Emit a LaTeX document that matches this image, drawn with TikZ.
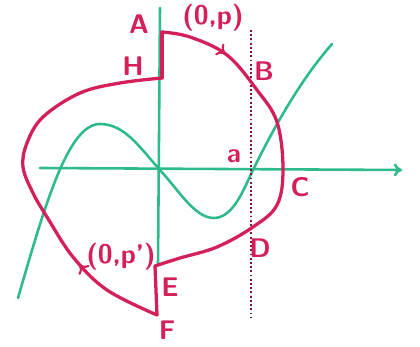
\documentclass[tikz,border=0pt]{standalone}
\usepackage{tikz}
\usetikzlibrary{arrows.meta,decorations.markings}

\definecolor{penred}{RGB}{212,32,88}
\definecolor{pengreen}{RGB}{46,186,138}

\begin{document}
\begin{tikzpicture}[x=0.03cm,y=-0.03cm,
    every node/.style={font=\sffamily\bfseries\fontsize{23}{25}\selectfont, text=penred},
    redline/.style={draw=penred, line width=2.8pt, line join=round, line cap=round},
    greenline/.style={draw=pengreen, line width=2.2pt, line cap=round},
    dotline/.style={draw=penred!60!black, line width=1.6pt, dotted},
    midarrow/.style={postaction={decorate}, decoration={markings,
        mark=at position #1 with {\arrow[penred, line width=1.8pt]{To[length=7pt,width=12pt]}}}}]

\useasboundingbox (0,0) rectangle (420,347);

% ==== 坐标轴 ====
\coordinate (xL) at (40,168);
\coordinate (xR) at (402,170);
\coordinate (yT) at (160,8);
\coordinate (yB) at (158,265);
\draw[greenline, -{To[length=7pt,width=11pt]}] (xL) -- (xR);
\draw[greenline] (yT) -- (yB);

% ==== 绿色曲线 ====
\draw[greenline]
  (18,298) .. controls (45,205) and (68,124) .. (100,124)
           .. controls (125,124) and (140,148) .. (160,170)
           .. controls (180,192) and (195,218) .. (214,218)
           .. controls (234,218) and (245,186) .. (253,170)
           .. controls (275,125) and (302,78) .. (332,44);

% ==== 虚线 x = a ====
\draw[dotline] (251,30) -- (251,318);

% ==== 红色闭合曲线 ====
\coordinate (A) at (162,32);
\coordinate (H) at (162,78);
\coordinate (E) at (155,266);
\coordinate (F) at (157,315);

% 右半部分 A -> B -> C -> D -> E
\draw[redline, midarrow=0.18] plot[smooth, tension=0.6] coordinates {
  (162,32) (190,37) (227,55) (257,90) (277,122) (283,169)
  (277,205) (253,227) (217,247) (180,258) (155,266)};

% 竖直小段
\draw[redline] (A) -- (H);
\draw[redline] (E) -- (F);

% 左半部分 F -> H
\draw[redline, midarrow=0.24] plot[smooth, tension=0.6] coordinates {
  (157,315) (107,290) (73,257) (47,217) (33,193) (23,167)
  (27,143) (43,117) (80,93) (120,83) (162,78)};

% ==== 标注 ====
\node (lA)  at (139,24)  {A};
\node (lp)  at (213,18)  {(0,p)};
\node (lH)  at (133,66)  {H};
\node (lB)  at (264,71)  {B};
\node (la)  at (234,156) {a};
\node (lC)  at (300,187) {C};
\node (lD)  at (260,248) {D};
\node (lq)  at (121,257) {(0,p')};
\node (lE)  at (170,287) {E};
\node (lF)  at (167,330) {F};

\end{tikzpicture}
\end{document}
